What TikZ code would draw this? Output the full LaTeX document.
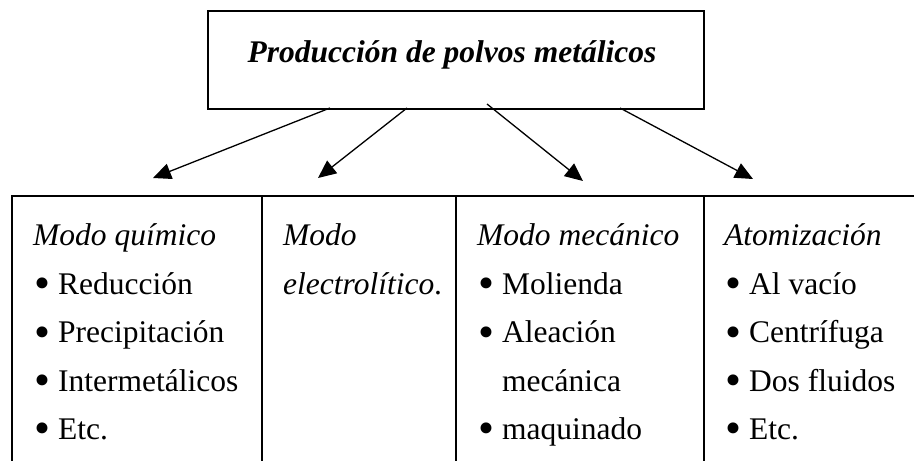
\documentclass[tikz,border=0pt]{standalone}
\usepackage{fontspec}
\setmainfont{Liberation Serif}
\usetikzlibrary{arrows.meta}
\newcommand\bl{\makebox[25pt][l]{\hspace{1pt}\raisebox{-0.14em}{\scalebox{1.45}{•}}}}
\tikzset{
  lbl/.style={anchor=base west, inner sep=0pt, font=\fontsize{31.5}{38}\selectfont},
  frame/.style={line width=1.6pt},
  conn/.style={line width=1.3pt, -{Triangle[length=18pt,width=16pt]}},
}
\begin{document}
\begin{tikzpicture}[x=1pt,y=-1pt]
\useasboundingbox (0,0) rectangle (914,461);
% title box
\node[draw, frame, minimum width=496pt, minimum height=98pt, anchor=north west, inner sep=0pt] (title) at (207,10) {};
\node[anchor=base, inner sep=0pt, font=\fontsize{31.5}{38}\selectfont\bfseries\itshape] (titletext) at (452,62) {Producción de polvos metálicos};
% table lines
\coordinate (tl) at (12,196);
\coordinate (tr) at (914,196);
\draw[frame] (12,461) -- (tl) -- (tr);
\draw[frame] (262,196) -- (262,461);
\draw[frame] (456,196) -- (456,461);
\draw[frame] (704,196) -- (704,461);
% arrows
\coordinate (s1) at (330,108);
\coordinate (s2) at (407,108);
\coordinate (s3) at (487,104);
\coordinate (s4) at (620,108);
\coordinate (e1) at (153,178);
\coordinate (e2) at (318,178);
\coordinate (e3) at (583,181);
\coordinate (e4) at (753,179);
\draw[conn] (s1) -- (e1);
\draw[conn] (s2) -- (e2);
\draw[conn] (s3) -- (e3);
\draw[conn] (s4) -- (e4);
% column 1
\node[lbl] (c1h) at (33,245.7) {\itshape Modo químico};
\node[lbl] (c1a) at (33,294.3) {\bl Reducción};
\node[lbl] (c1b) at (33,342.7) {\bl Precipitación};
\node[lbl] (c1c) at (33,391.3) {\bl Intermetálicos};
\node[lbl] (c1d) at (33,439.5) {\bl Etc.};
% column 2
\node[lbl] (c2h) at (283,245.7) {\itshape Modo};
\node[lbl] (c2a) at (283,294.3) {\textit{electrolítico}.};
% column 3
\node[lbl] (c3h) at (477,245.7) {\itshape Modo mecánico};
\node[lbl] (c3a) at (477,294.3) {\bl Molienda};
\node[lbl] (c3b) at (477,342.7) {\bl Aleación};
\node[lbl] (c3c) at (502,391.3) {mecánica};
\node[lbl] (c3d) at (477,439.5) {\bl maquinado};
% column 4
\node[lbl] (c4h) at (724,245.7) {\itshape Atomización};
\node[lbl] (c4a) at (724,294.3) {\bl Al vacío};
\node[lbl] (c4b) at (724,342.7) {\bl Centrífuga};
\node[lbl] (c4c) at (724,391.3) {\bl Dos fluidos};
\node[lbl] (c4d) at (724,439.5) {\bl Etc.};
\end{tikzpicture}
\end{document}
